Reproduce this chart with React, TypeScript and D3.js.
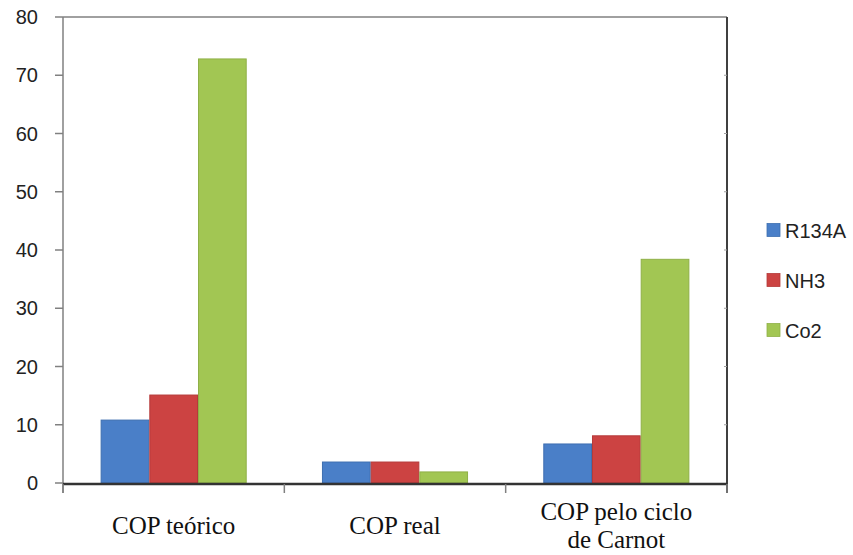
import React from "react";
import * as d3 from "d3";

const categories = ["COP teórico", "COP real", "COP pelo ciclo de Carnot"];
const categoryLines = [["COP teórico"], ["COP real"], ["COP pelo ciclo", "de Carnot"]];
const seriesNames = ["R134A", "NH3", "Co2"];
const r134a = [10.8, 3.6, 6.7];
const nh3 = [15.1, 3.6, 8.1];
const co2 = [72.8, 1.9, 38.4];
const yTicks = [0, 10, 20, 30, 40, 50, 60, 70, 80];
const colors = ["#4a7fc8", "#cc4342", "#a2c653"];
const strokeColors = ["#3e6fb0", "#b53a39", "#8fb047"];

export default function App() {
  const W = 853, H = 555;
  const left = 63, right = 727, top = 17, bottom = 483;
  const seriesValues = [r134a, nh3, co2];

  const x0 = d3.scaleBand<string>().domain(categories).range([left, right]).paddingInner(0.34).paddingOuter(0.17);
  const x1 = d3.scaleBand<string>().domain(seriesNames).range([0, x0.bandwidth()]).padding(0);
  const y = d3.scaleLinear().domain([0, 80]).range([bottom, top]);
  const boundaries = d3.range(categories.length + 1).map((i) => left + i * ((right - left) / categories.length));

  return (
    <svg width={W} height={H} style={{ position: "absolute", left: 0, top: 0, background: "#fff" }}>
      <rect x={0} y={0} width={W} height={H} fill="#fff" />
      {/* plot border top */}
      <line x1={left} x2={right} y1={top} y2={top} stroke="#808080" strokeWidth={1.5} />
      {/* right border */}
      <line x1={right} x2={right} y1={top} y2={bottom + 10} stroke="#404040" strokeWidth={2} />
      {yTicks.slice(1, -1).map((t) => (
        <line key={"rt" + t} x1={right - 3} x2={right} y1={y(t)} y2={y(t)} stroke="#a0a0a0" strokeWidth={1} />
      ))}
      {/* bars */}
      {categories.map((c, ci) => (
        <g key={c} transform={`translate(${x0(c)},0)`}>
          {seriesNames.map((s, si) => (
            <rect
              key={s}
              x={x1(s)! + 0.5}
              y={y(seriesValues[si][ci])}
              width={x1.bandwidth() - 1}
              height={bottom - y(seriesValues[si][ci])}
              fill={colors[si]}
              stroke={strokeColors[si]}
              strokeWidth={1}
            />
          ))}
        </g>
      ))}
      {/* y axis */}
      <line x1={left} x2={left} y1={top} y2={bottom + 10} stroke="#808080" strokeWidth={1.5} />
      {yTicks.map((t) => (
        <g key={t}>
          <line x1={left - 8} x2={left} y1={y(t)} y2={y(t)} stroke="#808080" strokeWidth={1.5} />
          <text
            x={38}
            y={y(t)}
            textAnchor="end"
            dominantBaseline="central"
            fontFamily="Liberation Sans, Arial, sans-serif"
            fontSize={20}
            fill="#222"
          >
            {t}
          </text>
        </g>
      ))}
      {/* x axis */}
      <line x1={left} x2={right} y1={bottom + 1} y2={bottom + 1} stroke="#333" strokeWidth={2.5} />
      {boundaries.map((b, i) => (
        <line key={"xt" + i} x1={b} x2={b} y1={bottom + 1} y2={bottom + 10} stroke="#808080" strokeWidth={1.5} />
      ))}
      {/* category labels */}
      {categories.map((c, ci) => {
        const lines = categoryLines[ci];
        const cx = x0(c)! + x0.bandwidth() / 2;
        const baseY = lines.length === 1 ? 534 : 520;
        return (
          <g key={"cl" + c}>
            {lines.map((l, li) => (
              <text
                key={li}
                x={cx}
                y={baseY + li * 28}
                textAnchor="middle"
                fontFamily="Liberation Serif, Times New Roman, serif"
                fontSize={25}
                fill="#111"
              >
                {l}
              </text>
            ))}
          </g>
        );
      })}
      {/* legend */}
      {seriesNames.map((s, si) => {
        const cy = 230 + si * 50;
        return (
          <g key={"lg" + s}>
            <rect x={767} y={cy - 6.5} width={13} height={13} fill={colors[si]} stroke={strokeColors[si]} strokeWidth={0.8} />
            <text
              x={785}
              y={cy + 1}
              dominantBaseline="central"
              fontFamily="Liberation Sans, Arial, sans-serif"
              fontSize={20}
              fill="#222"
            >
              {s}
            </text>
          </g>
        );
      })}
    </svg>
  );
}
